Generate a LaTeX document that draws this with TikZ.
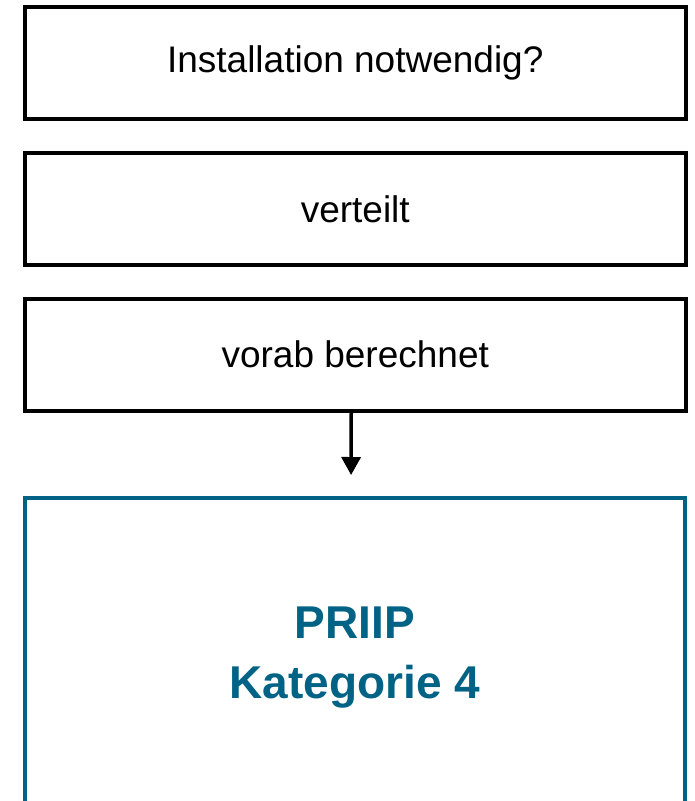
\documentclass[tikz,border=0pt]{standalone}
\usepackage{fontspec}
\setmainfont{Liberation Sans}
\usetikzlibrary{arrows.meta}
\definecolor{priipblue}{RGB}{0,98,132}
\newcommand{\boxwidth}[0] {661.5pt}

\tikzset{
    stepbox/.style={shape=rectangle, draw=black, line width=4pt, minimum width=\boxwidth, minimum height=112pt, font=\fontsize{37}{44}\selectfont},
    resultbox/.style={shape=rectangle, draw=priipblue, line width=4pt, minimum width=660pt, minimum height=320pt, align=center, text=priipblue, font=\fontsize{46}{60}\selectfont\bfseries},
    flow/.style={-{Triangle[width=19pt,length=18pt]}, line width=3.5pt, shorten >=21pt}
}

\begin{document}
\begin{tikzpicture}[x=1pt, y=-1pt]
        \useasboundingbox (0,0) rectangle (695,801);

        \node[stepbox] (install) at (355.25, 63)     {Installation notwendig?};
        \node[stepbox] (distrib) at (355.25, 209)    {verteilt};
        \node[stepbox] (precalc) at (355.25, 354.5)  {vorab berechnet};
        \node[resultbox] (cat) at (355, 658)         {PRIIP\\Kategorie 4};

        %result
        \draw[flow] ([xshift=-4pt]precalc.south) -- ([xshift=-4pt]cat.north);

\end{tikzpicture}
\end{document}
